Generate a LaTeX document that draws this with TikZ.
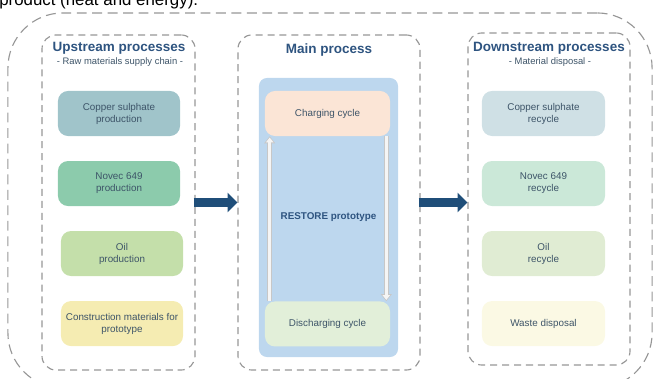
\documentclass[tikz,border=0pt]{standalone}
\usepackage{fontspec}
\setmainfont{Liberation Sans}
\usetikzlibrary{positioning, arrows.meta}

\definecolor{dashgray}{RGB}{150,150,150}
\definecolor{titleblue}{RGB}{46,84,128}
\definecolor{boxtext}{RGB}{61,84,104}
\definecolor{arrowblue}{RGB}{31,78,121}
\definecolor{protoblue}{RGB}{189,215,238}
\definecolor{cuprod}{RGB}{160,196,202}
\definecolor{novprod}{RGB}{140,203,172}
\definecolor{oilprod}{RGB}{196,223,170}
\definecolor{conprod}{RGB}{245,236,178}
\definecolor{chgcol}{RGB}{251,229,214}
\definecolor{discol}{RGB}{226,239,217}
\definecolor{curec}{RGB}{207,224,229}
\definecolor{novrec}{RGB}{203,232,216}
\definecolor{oilrec}{RGB}{224,236,211}
\definecolor{wastecol}{RGB}{251,249,228}

\begin{document}
\begin{tikzpicture}[x=0.025cm,y=-0.025cm,node distance=1.75cm,on grid,
		frame/.style={draw=dashgray,line width=0.8pt,dash pattern=on 7pt off 4pt,rounded corners=1.375cm,minimum width=16.1cm,minimum height=9.375cm},
		group/.style={draw=dashgray,line width=0.8pt,dash pattern=on 5pt off 3.5pt,rounded corners=0.35cm,minimum width=#1,minimum height=8.375cm},
		proc/.style={fill=#1,rounded corners=0.25cm,minimum width=3.05cm,minimum height=1.125cm,align=center,text=boxtext,font=\fontsize{7}{8.5}\selectfont},
		title/.style={text=titleblue,font=\bfseries\fontsize{9.6}{11}\selectfont},
		sub/.style={text=boxtext,font=\fontsize{6.7}{8}\selectfont},
		bigarrow/.style={draw=arrowblue,line width=6.4pt,-{Triangle[length=7pt,width=13.5pt]}},
		cycleout/.style={draw=black!22,line width=3.8pt,-{Triangle[length=5pt,width=7.5pt]}},
		cyclein/.style={draw=black!4,line width=2.4pt,-{Triangle[length=3.4pt,width=5.2pt]},shorten >=0.9pt}]
	\useasboundingbox (0,0) rectangle (655,379);
	\clip (0,0) rectangle (655,379);
	\node[anchor=base west,inner sep=0pt,font=\fontsize{12}{14}\selectfont] (caption) at (-1,6) {product (heat and energy).};
	\node[frame] (all) at (330,200.5) {};

	\node[group=3.825cm] (up) at (118.5,202.5) {};
	\node[group=4.55cm] (main) at (329,202.5) {};
	\node[group=4.05cm,minimum height=8.3cm] (down) at (549,199) {};

	\node[title] (uptitle) at (119,48) {Upstream processes};
	\node[sub] (upsub) at (120,62) {- Raw materials supply chain -};
	\node[title] (maintitle) at (329,50) {Main process};
	\node[title] (downtitle) at (549,48) {Downstream processes};
	\node[sub] (downsub) at (550,62) {- Material disposal -};

	\node[proc=cuprod] (cuprod) at (119,113.5) {Copper sulphate\\production};
	\node[proc=novprod] (novprod) [below=of cuprod] {Novec 649\\production};
	\node[proc=oilprod] (oilprod) [below=of novprod,xshift=0.075cm] {Oil\\production};
	\node[proc=conprod] (conprod) [below=of oilprod] {Construction materials for\\prototype};

	\node[fill=protoblue,rounded corners=0.2cm,minimum width=3.475cm,minimum height=6.975cm,text=titleblue,font=\bfseries\fontsize{7}{8.5}\selectfont] (proto) at (328.5,217.5) {RESTORE prototype};
	\node[proc=chgcol,minimum width=3.125cm] (chg) at (327.5,113.5) {Charging cycle};
	\node[proc=discol,minimum width=3.125cm] (dis) [below=5.26cm of chg] {Discharging cycle};

	\node[proc=curec,minimum width=3.075cm] (curec) at (543.5,113.5) {Copper sulphate\\recycle};
	\node[proc=novrec,minimum width=3.075cm] (novrec) [below=of curec] {Novec 649\\recycle};
	\node[proc=oilrec,minimum width=3.075cm] (oilrec) [below=of novrec] {Oil\\recycle};
	\node[proc=wastecol,minimum width=3.075cm] (waste) [below=of oilrec] {Waste disposal};

	\draw[cycleout] ([xshift=0.125cm]dis.north west) -- ([xshift=0.125cm]chg.south west);
	\draw[cyclein] ([xshift=0.125cm]dis.north west) -- ([xshift=0.125cm]chg.south west);
	\draw[cycleout] ([xshift=-0.1cm]chg.south east) -- ([xshift=-0.1cm]dis.north east);
	\draw[cyclein] ([xshift=-0.1cm]chg.south east) -- ([xshift=-0.1cm]dis.north east);

	\draw[bigarrow] ([xshift=-0.05cm]up.east) -- (main.west);
	\draw[bigarrow] ([xshift=-0.05cm]main.east) -- (main.east -| down.west);
\end{tikzpicture}
\end{document}
